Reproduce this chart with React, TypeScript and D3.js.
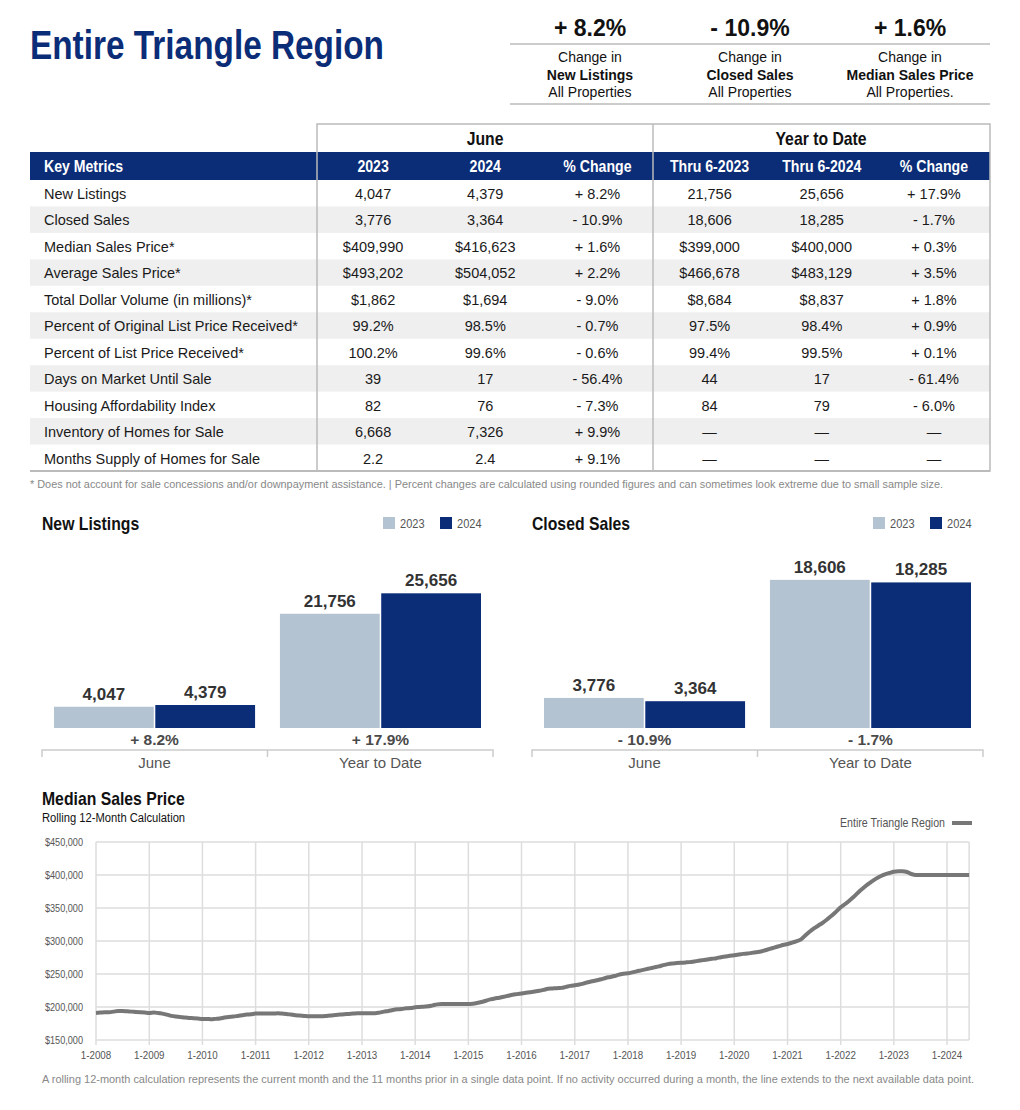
import React from 'react';
import * as d3 from 'd3';

// ---- data ----
const kpiValues = ['+ 8.2%', '- 10.9%', '+ 1.6%'];
const kpiNames = ['New Listings', 'Closed Sales', 'Median Sales Price'];
const kpiFoot = ['All Properties', 'All Properties', 'All Properties.'];

const metricNames = [
  'New Listings',
  'Closed Sales',
  'Median Sales Price*',
  'Average Sales Price*',
  'Total Dollar Volume (in millions)*',
  'Percent of Original List Price Received*',
  'Percent of List Price Received*',
  'Days on Market Until Sale',
  'Housing Affordability Index',
  'Inventory of Homes for Sale',
  'Months Supply of Homes for Sale',
];
const tableHeaders = ['2023', '2024', '% Change', 'Thru 6-2023', 'Thru 6-2024', '% Change'];
const june2023 = ['4,047', '3,776', '$409,990', '$493,202', '$1,862', '99.2%', '100.2%', '39', '82', '6,668', '2.2'];
const june2024 = ['4,379', '3,364', '$416,623', '$504,052', '$1,694', '98.5%', '99.6%', '17', '76', '7,326', '2.4'];
const juneChange = ['+ 8.2%', '- 10.9%', '+ 1.6%', '+ 2.2%', '- 9.0%', '- 0.7%', '- 0.6%', '- 56.4%', '- 7.3%', '+ 9.9%', '+ 9.1%'];
const ytd2023 = ['21,756', '18,606', '$399,000', '$466,678', '$8,684', '97.5%', '99.4%', '44', '84', '—', '—'];
const ytd2024 = ['25,656', '18,285', '$400,000', '$483,129', '$8,837', '98.4%', '99.5%', '17', '79', '—', '—'];
const ytdChange = ['+ 17.9%', '- 1.7%', '+ 0.3%', '+ 3.5%', '+ 1.8%', '+ 0.9%', '+ 0.1%', '- 61.4%', '- 6.0%', '—', '—'];

const barGroups = ['June', 'Year to Date'];
const barYears = ['2023', '2024'];
const newListings = [[4047, 4379], [21756, 25656]];
const newListingsChange = ['+ 8.2%', '+ 17.9%'];
const closedSales = [[3776, 3364], [18606, 18285]];
const closedSalesChange = ['- 10.9%', '- 1.7%'];

const lineStartYear = 2008;
const medianPrice = [
  // 2008
  191000, 191500, 192000, 192000, 193000, 194000, 194000, 193500, 193000, 192500, 192000, 191500,
  // 2009
  191000, 191500, 191000, 190000, 188500, 186500, 185500, 185000, 184000, 183500, 183000, 182500,
  // 2010
  182000, 182000, 181500, 182000, 182500, 184000, 185000, 185500, 186500, 187500, 188500, 189000,
  // 2011
  190000, 190000, 190000, 190000, 190000, 190500, 190000, 189500, 188500, 187500, 187000, 186500,
  // 2012
  186000, 186000, 186000, 186000, 186500, 187000, 188000, 188500, 189000, 189500, 190000, 190500,
  // 2013
  190500, 190500, 190500, 190500, 191500, 193000, 194000, 195500, 196500, 197000, 198000, 198500,
  // 2014
  199500, 200000, 200500, 201000, 202500, 204000, 204500, 204500, 204500, 204500, 204500, 204500,
  // 2015
  204500, 205000, 206000, 207500, 209500, 211500, 213000, 214000, 215500, 217000, 218500, 219500,
  // 2016
  220500, 221500, 222500, 223500, 224500, 226000, 227500, 228000, 228500, 229000, 230500, 232000,
  // 2017
  233000, 234000, 235500, 237500, 239000, 240500, 242000, 244000, 245500, 247000, 249000, 250500,
  // 2018
  251000, 252500, 254000, 255500, 257000, 258500, 260000, 261500, 263500, 265000, 266000, 266500,
  // 2019
  267000, 267500, 268000, 269000, 270000, 271000, 272000, 273000, 274000, 275500, 276500, 277500,
  // 2020
  278500, 279500, 280500, 281000, 282000, 283000, 284000, 286000, 288000, 290000, 292000, 294000,
  // 2021
  295500, 297500, 299500, 302000, 308000, 314000, 319000, 323500, 328000, 333000, 338500, 344500,
  // 2022
  351000, 356000, 361000, 367000, 373500, 379500, 385000, 390000, 394500, 398000, 401000, 403000,
  // 2023
  405000, 405500, 405500, 404500, 401500, 400000, 400000, 400000, 400000, 400000, 400000, 400000,
  // 2024
  400000, 400000, 400000, 400000, 400000, 400000,
];
const priceTicks = [150000, 200000, 250000, 300000, 350000, 400000, 450000];
const yearTicks = d3.range(2008, 2025);

// ---- style ----
const NAVY = '#0b2d78';
const LIGHT = '#b4c3d2';
const SANS = "'Liberation Sans', Arial, Helvetica, sans-serif";

// narrow text: regular sans squeezed horizontally (no condensed face installed)
const NText = ({ x, y, sx = 0.83, children, ...rest }: any) => (
  <text transform={`translate(${x},${y}) scale(${sx},1)`} fontFamily={SANS} {...rest}>{children}</text>
);

const BarPanel = ({ x0, title, values, changes, yMax }: { x0: number; title: string; values: number[][]; changes: string[]; yMax: number }) => {
  const baseY = 728;
  const groupX = d3.scaleBand<string>().domain(barGroups).range([x0 + 12, x0 + 439]).paddingInner(0.11);
  const inner = d3.scaleBand<string>().domain(barYears).range([0, groupX.bandwidth()]).paddingInner(0.015);
  const y = d3.scaleLinear().domain([0, yMax]).range([baseY, baseY - 168]);
  const fmt = d3.format(',');
  return (
    <g>
      <NText x={x0} y={530} fontWeight="bold" fontSize={19} fill="#111">{title}</NText>
      {barYears.map((yr, i) => (
        <g key={yr} transform={`translate(${x0 + 341 + i * 57},517)`}>
          <rect width={12} height={12} fill={i === 0 ? LIGHT : NAVY} />
          <NText x={17} y={11} sx={0.85} fontSize={13} fill="#555">{yr}</NText>
        </g>
      ))}
      {barGroups.map((g, gi) => (
        <g key={g}>
          {barYears.map((yr, yi) => {
            const v = values[gi][yi];
            const bx = (groupX(g) as number) + (inner(yr) as number);
            return (
              <g key={yr}>
                <rect x={bx} y={y(v)} width={inner.bandwidth()} height={baseY - y(v)} fill={yi === 0 ? LIGHT : NAVY} />
                <text x={bx + inner.bandwidth() / 2} y={y(v) - 7} textAnchor="middle" fontFamily={SANS} fontWeight="bold" fontSize={17} fill="#333">{fmt(v)}</text>
              </g>
            );
          })}
          <text x={(groupX(g) as number) + groupX.bandwidth() / 2} y={745} textAnchor="middle" fontFamily={SANS} fontWeight="bold" fontSize={15.5} fill="#4a4a4a">{changes[gi]}</text>
          <text x={(groupX(g) as number) + groupX.bandwidth() / 2} y={768} textAnchor="middle" fontFamily={SANS} fontSize={15} fill="#555">{g}</text>
        </g>
      ))}
      <path d={`M${x0},757V750H${x0 + 451}V757M${x0 + 225.5},750V757`} fill="none" stroke="#ccc" strokeWidth={1.5} />
    </g>
  );
};

const App = () => {
  const colX = d3.scaleBand<number>().domain(d3.range(6)).range([317, 990]);
  const rowY = d3.scaleBand<number>().domain(d3.range(metricNames.length)).range([180, 471]);
  const columns = [june2023, june2024, juneChange, ytd2023, ytd2024, ytdChange];

  // line chart scales
  const dates = medianPrice.map((_, i) => new Date(lineStartYear, i, 1));
  const x = d3.scaleTime().domain([new Date(2008, 0, 1), new Date(2024, 0, 1)]).range([96, 947]);
  const y = d3.scaleLinear().domain([150000, 450000]).range([1040, 842]);
  const line = d3.line<number>().x((_, i) => x(dates[i])).y((d) => y(d)).curve(d3.curveMonotoneX);
  const plotRight = x(dates[dates.length - 1]);
  const money = d3.format('$,');

  return (
    <svg width={1020} height={1110} style={{ position: 'absolute', left: 0, top: 0, background: '#fff' }}>
      <rect width={1020} height={1110} fill="#fff" />
      {/* title */}
      <text x={30} y={59} fontFamily={SANS} fontWeight="bold" fontSize={41} fill={NAVY} textLength={354} lengthAdjust="spacingAndGlyphs">Entire Triangle Region</text>

      {/* KPIs */}
      <line x1={510} x2={990} y1={44} y2={44} stroke="#ccc" strokeWidth={2} />
      <line x1={510} x2={990} y1={104} y2={104} stroke="#ccc" strokeWidth={2} />
      {kpiValues.map((v, i) => {
        const cx = 590 + i * 160;
        return (
          <g key={i} fontFamily={SANS} textAnchor="middle" fill="#111">
            <text x={cx} y={36} fontSize={23} fontWeight="bold">{v}</text>
            <text x={cx} y={62} fontSize={14}>Change in</text>
            <text x={cx} y={80} fontSize={14} fontWeight="bold">{kpiNames[i]}</text>
            <text x={cx} y={97} fontSize={14}>{kpiFoot[i]}</text>
          </g>
        );
      })}

      {/* table */}
      {metricNames.map((_, r) => (r % 2 === 1 ? (
        <rect key={r} x={30} y={rowY(r)} width={960} height={rowY.bandwidth()} fill="#efefef" />
      ) : null))}
      <rect x={30} y={152} width={960} height={28} fill={NAVY} />
      <rect x={317} y={124} width={673} height={347} fill="none" stroke="#bbb" strokeWidth={1.5} />
      <line x1={653} x2={653} y1={124} y2={471} stroke="#bbb" strokeWidth={1.5} />
      <line x1={30} x2={990} y1={471} y2={471} stroke="#bbb" strokeWidth={2} />
      <NText x={485} y={145} textAnchor="middle" fontWeight="bold" fontSize={19} fill="#111">June</NText>
      <NText x={821} y={145} textAnchor="middle" fontWeight="bold" fontSize={19} fill="#111">Year to Date</NText>
      <NText x={44} y={172} fontWeight="bold" fontSize={17} fill="#fff">Key Metrics</NText>
      {tableHeaders.map((h, c) => (
        <NText key={c} x={(colX(c) as number) + colX.bandwidth() / 2} y={172} textAnchor="middle" fontWeight="bold" fontSize={17} fill="#fff">{h}</NText>
      ))}
      {metricNames.map((m, r) => (
        <g key={m} fontFamily={SANS} fontSize={14.5} fill="#1a1a1a">
          <text x={44} y={(rowY(r) as number) + 19}>{m}</text>
          {columns.map((col, c) => (
            <text key={c} x={(colX(c) as number) + colX.bandwidth() / 2} y={(rowY(r) as number) + 19} textAnchor="middle">{col[r]}</text>
          ))}
        </g>
      ))}
      <text x={30} y={488} fontFamily={SANS} fontSize={11.5} fill="#888" textLength={913} lengthAdjust="spacingAndGlyphs">* Does not account for sale concessions and/or downpayment assistance. | Percent changes are calculated using rounded figures and can sometimes look extreme due to small sample size.</text>

      {/* bar charts */}
      <BarPanel x0={42} title="New Listings" values={newListings} changes={newListingsChange} yMax={32000} />
      <BarPanel x0={532} title="Closed Sales" values={closedSales} changes={closedSalesChange} yMax={21100} />

      {/* line chart */}
      <NText x={42} y={805} fontWeight="bold" fontSize={19} fill="#111">Median Sales Price</NText>
      <NText x={42} y={822} fontSize={13.5} fill="#111">Rolling 12-Month Calculation</NText>
      <text x={945} y={827} textAnchor="end" fontFamily={SANS} fontSize={13} fill="#555" textLength={105} lengthAdjust="spacingAndGlyphs">Entire Triangle Region</text>
      <line x1={952} x2={972} y1={823} y2={823} stroke="#777" strokeWidth={4} />
      {priceTicks.map((t) => (
        <g key={t}>
          <line x1={96} x2={plotRight} y1={y(t)} y2={y(t)} stroke="#ddd" strokeWidth={1.5} />
          <NText x={83} y={y(t) + 3.5} textAnchor="end" fontSize={11} fill="#555">{money(t)}</NText>
        </g>
      ))}
      {yearTicks.map((yr) => {
        const xx = x(new Date(yr, 0, 1));
        return (
          <g key={yr}>
            <line x1={xx} x2={xx} y1={842} y2={1045} stroke="#ddd" strokeWidth={1.5} />
            <NText x={xx} y={1059} sx={0.85} textAnchor="middle" fontSize={11.5} fill="#555">{`1-${yr}`}</NText>
          </g>
        );
      })}
      <line x1={plotRight} x2={plotRight} y1={842} y2={1040} stroke="#ddd" strokeWidth={1.5} />
      <path d={line(medianPrice) as string} fill="none" stroke="#777" strokeWidth={4} strokeLinejoin="round" />
      <text x={42} y={1083} fontFamily={SANS} fontSize={11} fill="#888" textLength={932} lengthAdjust="spacingAndGlyphs">A rolling 12-month calculation represents the current month and the 11 months prior in a single data point. If no activity occurred during a month, the line extends to the next available data point.</text>
    </svg>
  );
};

export default App;
